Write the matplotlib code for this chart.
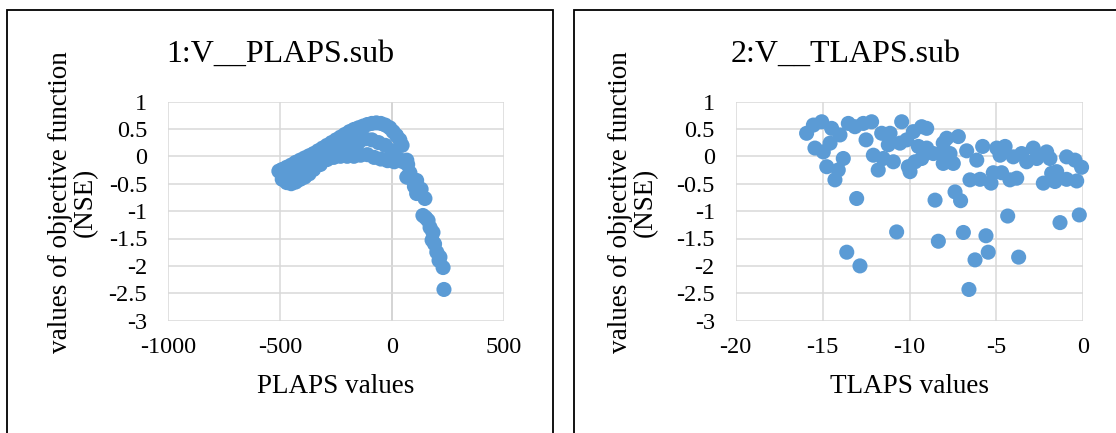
import matplotlib
matplotlib.use("Agg")
import matplotlib.pyplot as plt
from matplotlib.patches import Rectangle
from matplotlib.ticker import FuncFormatter
import numpy as np

plt.rcParams['font.family'] = ['Liberation Serif', 'DejaVu Serif']
plt.rcParams['axes.unicode_minus'] = False

# ---------------- data ----------------
titles = ["1:V__PLAPS.sub", "2:V__TLAPS.sub"]
x_labels = ["PLAPS values", "TLAPS values"]
y_label = "values of objective function\n(NSE)"

# chart 1 : PLAPS
plaps_x = [-505, -490, -470, -450, -430, -410, -390, -370, -350, -330, -310, -290, -270, -250,
           -230, -210, -190, -170, -150, -130, -110, -90, -70, -50, -30, -10, 5, 20, 35, 45,
           -450, -420, -390, -360, -330, -300, -270, -240, -210, -180, -150, -120, -90, -60, -30, 0,
           -490, -470, -450, -430, -410, -390, -370, -350, -320, -290, -260, -230, -200, -170,
           -140, -110, -80, -50, -20, 10, 30, 50, 70,
           66, 66, 80, 90, 110, 100, 110, 130, 147, 138, 150, 161, 170, 183, 179, 190, 200, 214,
           210, 228, 232]
plaps_y = [-0.27, -0.24, -0.20, -0.16, -0.11, -0.07, -0.03, 0.01, 0.05, 0.10, 0.15, 0.20, 0.25, 0.30,
           0.35, 0.40, 0.45, 0.49, 0.52, 0.55, 0.58, 0.60, 0.61, 0.60, 0.57, 0.52, 0.45, 0.38, 0.30, 0.20,
           -0.30, -0.25, -0.20, -0.13, -0.06, 0.00, 0.05, 0.10, 0.15, 0.20, 0.25, 0.32, 0.30, 0.25, 0.20, 0.10,
           -0.42, -0.48, -0.50, -0.47, -0.42, -0.38, -0.32, -0.24, -0.15, -0.06, -0.02, 0.00, 0.00, 0.00,
           0.02, 0.03, -0.02, -0.05, -0.08, -0.10, -0.05, -0.10, -0.15,
           -0.07, -0.38, -0.30, -0.42, -0.44, -0.55, -0.68, -0.60, -0.77, -1.08, -1.12, -1.17, -1.30,
           -1.39, -1.53, -1.60, -1.75, -1.84, -1.90, -2.03, -2.43]

# chart 2 : TLAPS
tlaps_x = [-15.92, -15.53, -15.05, -14.48, -14.00, -15.44, -14.96, -14.57, -14.76, -14.10, -13.81,
           -14.29, -13.52, -13.14, -12.66, -12.18, -12.50, -13.04, -13.61, -12.85, -12.08, -11.80,
           -11.60, -11.12, -11.22, -11.51, -10.93, -10.45, -10.55, -10.16, -9.78, -9.30, -9.01,
           -10.07, -9.97, -10.74, -9.49, -9.01, -9.30, -9.68, -8.63, -8.06, -7.86, -7.19, -8.15,
           -7.67, -8.06, -7.48, -8.53, -8.34, -7.38, -7.06, -6.90, -6.71, -6.13, -5.79, -6.52,
           -5.94, -5.31, -5.18, -4.70, -4.22, -3.83, -4.98, -4.50, -4.79, -5.60, -5.47, -6.23,
           -6.58, -4.35, -3.72, -4.03, -3.55, -3.26, -2.88, -2.68, -2.11, -1.92, -2.30, -1.82,
           -1.53, -1.63, -0.96, -0.48, -0.10, -0.96, -0.38, -1.34, -0.23]
tlaps_y = [0.42, 0.57, 0.63, 0.51, 0.39, 0.15, 0.08, 0.24, -0.19, -0.25, -0.04,
           -0.43, 0.60, 0.54, 0.60, 0.63, 0.30, -0.77, -1.75, -2.00, 0.02, -0.25,
           0.42, 0.42, 0.21, -0.04, -0.10, 0.63, 0.24, 0.30, 0.45, 0.54, 0.51,
           -0.19, -0.28, -1.38, 0.18, 0.15, -0.04, -0.10, 0.05, 0.24, 0.33, 0.36, 0.05,
           0.05, -0.13, -0.13, -0.80, -1.55, -0.65, -0.81, -1.39, 0.10, -0.07, 0.18, -0.43,
           -0.42, -0.49, -0.30, -0.30, -0.43, -0.40, 0.15, 0.18, 0.02, -1.45, -1.75, -1.89,
           -2.43, -1.09, -1.84, -0.01, 0.05, -0.10, 0.15, -0.04, 0.08, -0.04, -0.49, -0.31,
           -0.28, -0.46, -0.01, -0.07, -0.20, -0.42, -0.45, -1.21, -1.07]

xlims = [(-1000, 500), (-20, 0)]
xticks = [[-1000, -500, 0, 500], [-20, -15, -10, -5, 0]]
yticks = [1, 0.5, 0, -0.5, -1, -1.5, -2, -2.5, -3]

# ---------------- layout ----------------
W, H = 1116, 433
fig = plt.figure(figsize=(W / 100, H / 100), dpi=100)

def fx(x):
    return x / W

def fy(y):
    return 1 - y / H

axes_px = [(168, 101.5, 504, 320.7), (735.7, 101.5, 1083.3, 320.7)]
frames_px = [(7, 10, 553, 440), (574, 10, 1125, 440)]
title_px = [(280, 62), (846, 62)]
xlabel_px = [(336, 393), (910, 393)]
ylabel_px = [(73, 202), (633, 202)]

blue = '#5B9BD5'
grid_c = '#D9D9D9'

data = [(plaps_x, plaps_y), (tlaps_x, tlaps_y)]

def fmt(v, pos):
    return '%g' % v

for i in range(2):
    x0, y0, x1, y1 = axes_px[i]
    ax = fig.add_axes([fx(x0), fy(y1), (x1 - x0) / W, (y1 - y0) / H])
    ax.set_xlim(*xlims[i])
    ax.set_ylim(-3, 1)
    ax.set_xticks(xticks[i])
    ax.set_yticks(yticks)
    ax.xaxis.set_major_formatter(FuncFormatter(fmt))
    ax.yaxis.set_major_formatter(FuncFormatter(fmt))
    ax.grid(True, color=grid_c, lw=1.1, zorder=0)
    ax.set_axisbelow(True)
    for sp in ax.spines.values():
        sp.set_visible(False)
    ax.tick_params(length=0, labelsize=17.5, colors='black')
    ax.tick_params(axis='x', pad=12)
    ax.tick_params(axis='y', pad=15)
    if i == 0:
        ax.axvline(0, color='#BFBFBF', lw=1.2, zorder=0.5)
    xs, ys = data[i]
    ax.scatter(xs, ys, s=118, color=blue, edgecolors='none', zorder=3, clip_on=False)

    # frame
    fx0, fy0, fx1, fy1 = frames_px[i]
    fig.add_artist(Rectangle((fx(fx0), fy(fy1)), (fx1 - fx0) / W, (fy1 - fy0) / H,
                             transform=fig.transFigure, fill=False, ec='black', lw=1.3))
    # texts
    fig.text(fx(title_px[i][0]), fy(title_px[i][1]), titles[i], ha='center', va='baseline',
             fontsize=23)
    fig.text(fx(xlabel_px[i][0]), fy(xlabel_px[i][1]), x_labels[i], ha='center', va='baseline',
             fontsize=19.5)
    fig.text(fx(ylabel_px[i][0]), fy(ylabel_px[i][1]), y_label, ha='center', va='center',
             rotation=90, fontsize=19.5, linespacing=0.95, multialignment='center')

fig.savefig('out.png', dpi=100)
